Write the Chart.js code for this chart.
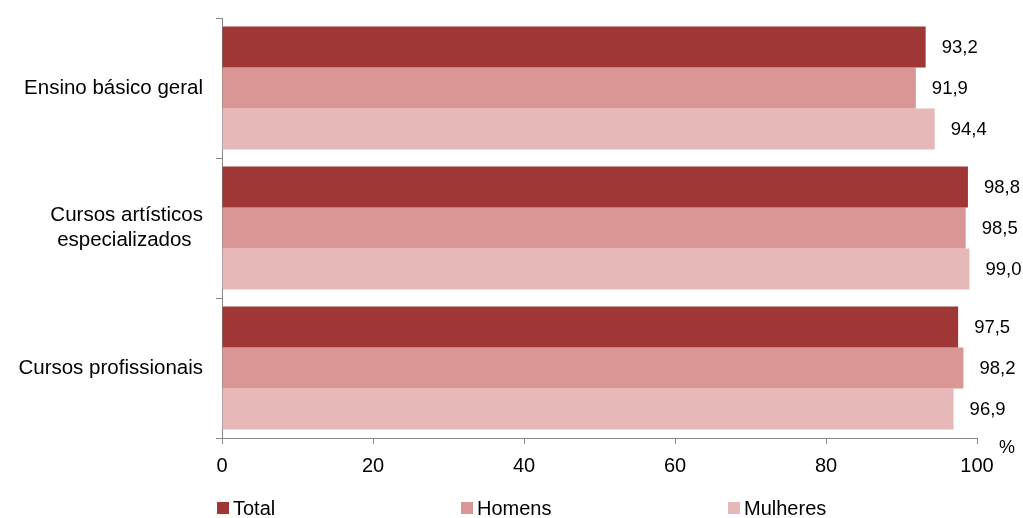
<!DOCTYPE html>
<html lang="pt">
<head>
    <meta charset="UTF-8">
    <title>Taxa de conclusão por modalidade</title>
    <script src="https://cdn.jsdelivr.net/npm/chart.js@4.4.0/dist/chart.umd.min.js"></script>
    <style>
        html, body { margin: 0; padding: 0; background: #fff; }
        #wrap { width: 1023px; height: 518px; position: relative; }
    </style>
</head>
<body>
<div id="wrap"><canvas id="chart"></canvas></div>
<script>
    const categories = ['Ensino básico geral', ['Cursos artísticos', 'especializados  '], 'Cursos profissionais'];
    const seriesNames = ['Total', 'Homens', 'Mulheres'];
    const totalValues = [93.2, 98.8, 97.5];
    const homensValues = [91.9, 98.5, 98.2];
    const mulheresValues = [94.4, 99.0, 96.9];
    const xTicks = [0, 20, 40, 60, 80, 100];

    const colors = ['#a03737', '#d99694', '#e6b9b8'];
    const axisColor = '#868686';
    const fontFamily = '"Liberation Sans", Arial, sans-serif';

    // value labels to the right of each bar, with decimal comma
    const valueLabels = {
        id: 'valueLabels',
        afterDatasetsDraw(chart) {
            const ctx = chart.ctx;
            ctx.save();
            ctx.font = '18.5px ' + fontFamily;
            ctx.fillStyle = '#000';
            ctx.textAlign = 'left';
            ctx.textBaseline = 'middle';
            chart.data.datasets.forEach((ds, i) => {
                chart.getDatasetMeta(i).data.forEach((bar, j) => {
                    ctx.fillText(ds.data[j].toFixed(1).replace('.', ','), bar.x + 16, bar.y + 1);
                });
            });
            ctx.restore();
        }
    };

    // legend spread along the bottom + the "%" unit next to the x axis
    const extras = {
        id: 'extras',
        afterDraw(chart) {
            const ctx = chart.ctx;
            const area = chart.chartArea;
            ctx.save();
            ctx.font = '18px ' + fontFamily;
            ctx.fillStyle = '#000';
            ctx.textBaseline = 'middle';
            ctx.textAlign = 'center';
            ctx.fillText('%', area.right + 30, area.bottom + 10);

            const startX = [217, 461, 728];
            const y = 508;
            ctx.font = '20px ' + fontFamily;
            ctx.textAlign = 'left';
            chart.data.datasets.forEach((ds, i) => {
                ctx.fillStyle = ds.backgroundColor;
                ctx.fillRect(startX[i], y - 6, 12, 12);
                ctx.fillStyle = '#000';
                ctx.fillText(ds.label, startX[i] + 16, y + 1);
            });
            ctx.restore();
        }
    };

    new Chart(document.getElementById('chart'), {
        type: 'bar',
        data: {
            labels: categories,
            datasets: [
                { label: seriesNames[0], data: totalValues, backgroundColor: colors[0] },
                { label: seriesNames[1], data: homensValues, backgroundColor: colors[1] },
                { label: seriesNames[2], data: mulheresValues, backgroundColor: colors[2] }
            ]
        },
        options: {
            indexAxis: 'y',
            responsive: true,
            maintainAspectRatio: false,
            animation: false,
            datasets: { bar: { categoryPercentage: 0.879, barPercentage: 1.0 } },
            layout: { padding: { top: 18, right: 46, bottom: 0, left: 0 } },
            plugins: { legend: { display: false }, tooltip: { enabled: false } },
            scales: {
                x: {
                    min: 0,
                    max: 100,
                    afterBuildTicks: scale => { scale.ticks = xTicks.map(v => ({ value: v })); },
                    afterFit: scale => { scale.height = 80; },
                    grid: { drawOnChartArea: false, color: axisColor, tickLength: 6 },
                    border: { color: axisColor, width: 1 },
                    ticks: { color: '#000', font: { family: fontFamily, size: 20 }, padding: 10, maxRotation: 0 }
                },
                y: {
                    afterFit: scale => {
                        scale.width = 222;
                        scale.paddingTop = 0;
                        scale.paddingBottom = 0;
                    },
                    grid: { offset: true, drawOnChartArea: false, color: axisColor, tickLength: 6 },
                    border: { color: axisColor, width: 1 },
                    ticks: { color: '#000', font: { family: fontFamily, size: 20.5 }, padding: 13 }
                }
            }
        },
        plugins: [valueLabels, extras]
    });
</script>
</body>
</html>
